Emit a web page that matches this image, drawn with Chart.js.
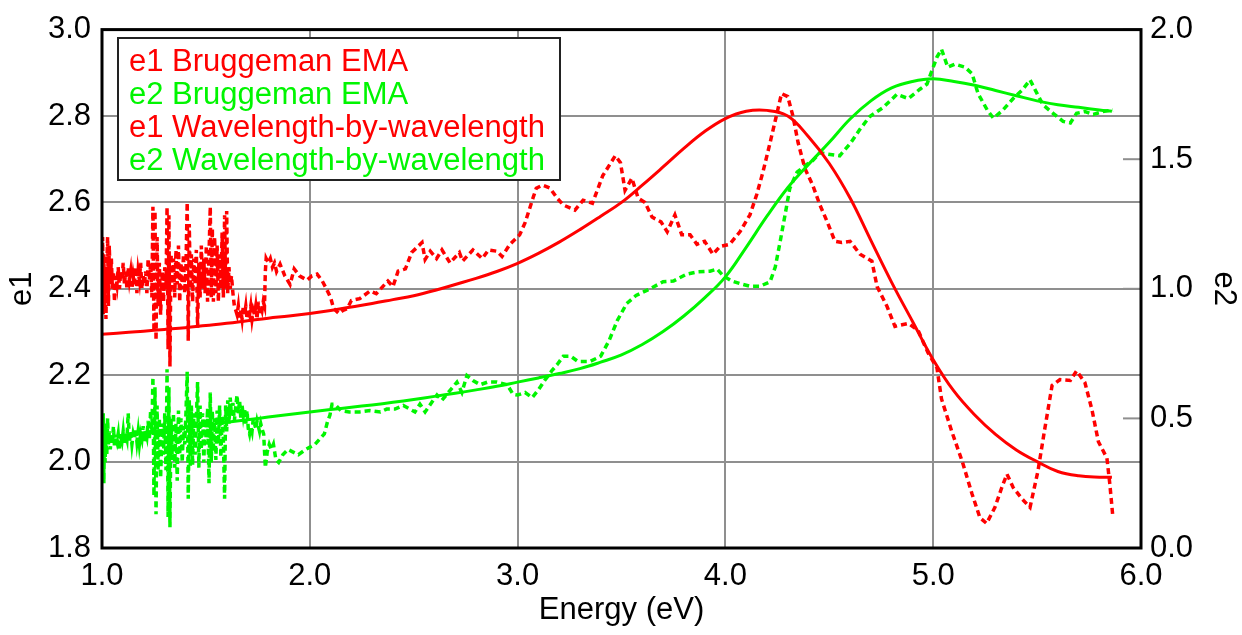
<!DOCTYPE html>
<html>
<head>
<meta charset="utf-8">
<script src="https://cdn.jsdelivr.net/npm/chart.js@4/dist/chart.umd.min.js"></script>
<style>
  html, body { margin: 0; padding: 0; background: #fff; }
  #wrap { width: 1242px; height: 635px; position: relative; }
</style>
</head>
<body>
<div id="wrap"><canvas id="chart"></canvas></div>
<script>
// Bruggeman EMA model curves, sampled every 0.1 eV
const bruggemanEnergy = [1.0, 1.1, 1.2, 1.3, 1.4, 1.5, 1.6, 1.7, 1.8, 1.9, 2.0, 2.1, 2.2, 2.3, 2.4, 2.5, 2.6, 2.7, 2.8, 2.9,
    3.0, 3.1, 3.2, 3.3, 3.4, 3.5, 3.6, 3.7, 3.8, 3.9, 4.0, 4.1, 4.2, 4.3, 4.4, 4.5, 4.6, 4.7, 4.8, 4.9,
    5.0, 5.1, 5.2, 5.3, 5.4, 5.5, 5.6, 5.7, 5.8, 5.86];
const e1Bruggeman = [2.295, 2.298, 2.302, 2.306, 2.310, 2.315, 2.320, 2.326, 2.332, 2.337, 2.343, 2.350, 2.358, 2.366, 2.375, 2.384, 2.396, 2.410, 2.424, 2.440,
    2.459, 2.482, 2.508, 2.537, 2.568, 2.600, 2.640, 2.682, 2.725, 2.764, 2.794, 2.811, 2.813, 2.800, 2.752, 2.690, 2.610, 2.512, 2.415, 2.325,
    2.236, 2.163, 2.108, 2.063, 2.027, 2.000, 1.977, 1.967, 1.964, 1.964];
const e2Bruggeman = [0.425, 0.435, 0.445, 0.455, 0.465, 0.475, 0.485, 0.495, 0.505, 0.515, 0.525, 0.534, 0.543, 0.552, 0.562, 0.573, 0.585, 0.597, 0.610, 0.624,
    0.640, 0.656, 0.673, 0.692, 0.717, 0.745, 0.785, 0.835, 0.895, 0.965, 1.046, 1.160, 1.280, 1.390, 1.480, 1.565, 1.655, 1.725, 1.775, 1.800,
    1.810, 1.800, 1.785, 1.765, 1.745, 1.725, 1.710, 1.700, 1.690, 1.685];

// Wavelength-by-wavelength fit results, [energy, value]
const wbwE1 = [
    [1.000, 2.40], [1.003, 2.52], [1.006, 2.34], [1.009, 2.48], [1.012, 2.36], [1.015, 2.44], [1.019, 2.33], [1.023, 2.45],
    [1.027, 2.52], [1.031, 2.36], [1.035, 2.50], [1.040, 2.41], [1.045, 2.47], [1.050, 2.40], [1.055, 2.44], [1.060, 2.37],
    [1.066, 2.43], [1.072, 2.41], [1.078, 2.45], [1.084, 2.40], [1.090, 2.44], [1.096, 2.42], [1.102, 2.46], [1.108, 2.41],
    [1.114, 2.44], [1.120, 2.40], [1.126, 2.45], [1.132, 2.42], [1.138, 2.44], [1.144, 2.40], [1.150, 2.43], [1.156, 2.41],
    [1.162, 2.45], [1.168, 2.39], [1.174, 2.44], [1.180, 2.42], [1.186, 2.46], [1.192, 2.40], [1.198, 2.43], [1.204, 2.41],
    [1.210, 2.44], [1.216, 2.39], [1.222, 2.47], [1.228, 2.42], [1.234, 2.46], [1.240, 2.38], [1.245, 2.59], [1.250, 2.30],
    [1.255, 2.58], [1.260, 2.28], [1.265, 2.52], [1.270, 2.36], [1.276, 2.46], [1.282, 2.34], [1.290, 2.44], [1.296, 2.37],
    [1.302, 2.45], [1.308, 2.40], [1.313, 2.59], [1.318, 2.26], [1.322, 2.57], [1.327, 2.22], [1.332, 2.48], [1.338, 2.40],
    [1.344, 2.47], [1.350, 2.38], [1.356, 2.49], [1.362, 2.41], [1.368, 2.50], [1.374, 2.37], [1.380, 2.46], [1.386, 2.40],
    [1.392, 2.48], [1.398, 2.39], [1.404, 2.45], [1.410, 2.60], [1.415, 2.28], [1.420, 2.55], [1.425, 2.40], [1.430, 2.48],
    [1.436, 2.37], [1.442, 2.47], [1.448, 2.41], [1.454, 2.49], [1.460, 2.31], [1.466, 2.46], [1.472, 2.38], [1.478, 2.50],
    [1.484, 2.40], [1.490, 2.47], [1.496, 2.39], [1.502, 2.50], [1.508, 2.37], [1.515, 2.48], [1.521, 2.59], [1.526, 2.38],
    [1.531, 2.54], [1.536, 2.37], [1.542, 2.52], [1.548, 2.39], [1.554, 2.50], [1.560, 2.37], [1.566, 2.48], [1.572, 2.40],
    [1.578, 2.53], [1.584, 2.38], [1.590, 2.57], [1.595, 2.40], [1.600, 2.58], [1.605, 2.39], [1.611, 2.45], [1.617, 2.40],
    [1.623, 2.43], [1.630, 2.39], [1.637, 2.36], [1.644, 2.35], [1.650, 2.34], [1.656, 2.36], [1.662, 2.33], [1.668, 2.35],
    [1.674, 2.33], [1.680, 2.36], [1.686, 2.34], [1.692, 2.36], [1.698, 2.33], [1.704, 2.35], [1.710, 2.34], [1.716, 2.36],
    [1.722, 2.33], [1.728, 2.35], [1.734, 2.34], [1.740, 2.36], [1.746, 2.33], [1.752, 2.37], [1.758, 2.34], [1.764, 2.36],
    [1.770, 2.35], [1.776, 2.37], [1.782, 2.36], [1.786, 2.44], [1.790, 2.47], [1.800, 2.46], [1.810, 2.47], [1.820, 2.45],
    [1.830, 2.46], [1.840, 2.44], [1.857, 2.457], [1.880, 2.43], [1.905, 2.41], [1.925, 2.446], [1.950, 2.43], [1.987, 2.42],
    [2.010, 2.43], [2.035, 2.434], [2.060, 2.418], [2.080, 2.40], [2.100, 2.38], [2.115, 2.354], [2.140, 2.343], [2.160, 2.35],
    [2.180, 2.354], [2.200, 2.373], [2.240, 2.377], [2.290, 2.395], [2.320, 2.389], [2.376, 2.418], [2.400, 2.405], [2.425, 2.441],
    [2.460, 2.446], [2.490, 2.484], [2.540, 2.507], [2.555, 2.468], [2.580, 2.487], [2.610, 2.47], [2.636, 2.49], [2.675, 2.46],
    [2.720, 2.484], [2.735, 2.464], [2.785, 2.49], [2.830, 2.47], [2.860, 2.49], [2.900, 2.487], [2.925, 2.475], [2.963, 2.503],
    [3.010, 2.525], [3.036, 2.553], [3.074, 2.61], [3.090, 2.633], [3.120, 2.64], [3.156, 2.633], [3.190, 2.61], [3.220, 2.594],
    [3.276, 2.582], [3.315, 2.605], [3.360, 2.598], [3.410, 2.662], [3.470, 2.708], [3.495, 2.692], [3.517, 2.628], [3.550, 2.656],
    [3.580, 2.61], [3.613, 2.60], [3.647, 2.566], [3.690, 2.555], [3.720, 2.532], [3.757, 2.571], [3.790, 2.525], [3.830, 2.525],
    [3.863, 2.503], [3.900, 2.51], [3.940, 2.48], [3.974, 2.498], [4.020, 2.503], [4.070, 2.532], [4.118, 2.571], [4.150, 2.617],
    [4.180, 2.669], [4.215, 2.738], [4.248, 2.806], [4.270, 2.852], [4.300, 2.845], [4.325, 2.80], [4.350, 2.738], [4.383, 2.678],
    [4.420, 2.64], [4.455, 2.594], [4.490, 2.555], [4.527, 2.51], [4.560, 2.507], [4.600, 2.51], [4.648, 2.48], [4.705, 2.464],
    [4.730, 2.405], [4.778, 2.359], [4.816, 2.313], [4.880, 2.32], [4.927, 2.304], [4.975, 2.252], [5.018, 2.217], [5.040, 2.145],
    [5.090, 2.069], [5.140, 2.0], [5.187, 1.925], [5.225, 1.87], [5.257, 1.857], [5.297, 1.894], [5.330, 1.94], [5.355, 1.971],
    [5.385, 1.94], [5.427, 1.914], [5.466, 1.894], [5.504, 1.978], [5.537, 2.076], [5.572, 2.176], [5.610, 2.19], [5.660, 2.188],
    [5.690, 2.21], [5.730, 2.183], [5.764, 2.12], [5.795, 2.046], [5.836, 2.008], [5.850, 1.948], [5.865, 1.87]
];

const wbwE2 = [
    [1.000, 0.45], [1.003, 0.30], [1.006, 0.52], [1.009, 0.25], [1.012, 0.48], [1.015, 0.33], [1.019, 0.47], [1.023, 0.36],
    [1.027, 0.50], [1.031, 0.40], [1.035, 0.45], [1.040, 0.38], [1.045, 0.44], [1.050, 0.40], [1.055, 0.47], [1.060, 0.39],
    [1.066, 0.43], [1.072, 0.41], [1.078, 0.44], [1.084, 0.38], [1.090, 0.43], [1.096, 0.41], [1.102, 0.45], [1.108, 0.40],
    [1.114, 0.44], [1.120, 0.42], [1.126, 0.52], [1.132, 0.41], [1.138, 0.45], [1.144, 0.40], [1.150, 0.44], [1.156, 0.42],
    [1.162, 0.46], [1.168, 0.41], [1.174, 0.45], [1.180, 0.40], [1.186, 0.44], [1.192, 0.42], [1.198, 0.47], [1.204, 0.41],
    [1.210, 0.45], [1.216, 0.43], [1.222, 0.49], [1.228, 0.42], [1.234, 0.53], [1.240, 0.44], [1.245, 0.66], [1.250, 0.20],
    [1.255, 0.62], [1.260, 0.13], [1.265, 0.55], [1.270, 0.30], [1.276, 0.50], [1.282, 0.27], [1.290, 0.48], [1.296, 0.36],
    [1.302, 0.52], [1.308, 0.30], [1.313, 0.69], [1.318, 0.12], [1.322, 0.62], [1.327, 0.08], [1.332, 0.50], [1.338, 0.34],
    [1.344, 0.52], [1.350, 0.31], [1.356, 0.48], [1.362, 0.26], [1.368, 0.53], [1.374, 0.36], [1.380, 0.50], [1.386, 0.33],
    [1.392, 0.47], [1.398, 0.40], [1.404, 0.52], [1.410, 0.68], [1.415, 0.19], [1.420, 0.57], [1.425, 0.31], [1.430, 0.55],
    [1.436, 0.32], [1.442, 0.52], [1.448, 0.36], [1.454, 0.50], [1.460, 0.64], [1.466, 0.31], [1.472, 0.55], [1.478, 0.38],
    [1.484, 0.52], [1.490, 0.33], [1.496, 0.50], [1.502, 0.40], [1.508, 0.54], [1.515, 0.25], [1.521, 0.60], [1.526, 0.33],
    [1.531, 0.53], [1.536, 0.37], [1.542, 0.50], [1.548, 0.34], [1.554, 0.53], [1.560, 0.40], [1.566, 0.55], [1.572, 0.35],
    [1.578, 0.51], [1.584, 0.42], [1.590, 0.19], [1.595, 0.55], [1.600, 0.45], [1.605, 0.57], [1.611, 0.48], [1.617, 0.58],
    [1.623, 0.51], [1.630, 0.56], [1.637, 0.49], [1.644, 0.55], [1.650, 0.59], [1.656, 0.52], [1.662, 0.57], [1.668, 0.50],
    [1.674, 0.55], [1.680, 0.51], [1.686, 0.54], [1.692, 0.48], [1.698, 0.53], [1.704, 0.46], [1.710, 0.44], [1.716, 0.47],
    [1.722, 0.45], [1.728, 0.50], [1.734, 0.48], [1.740, 0.46], [1.746, 0.49], [1.752, 0.47], [1.758, 0.45], [1.764, 0.48],
    [1.770, 0.46], [1.778, 0.44], [1.786, 0.31], [1.795, 0.37], [1.805, 0.40], [1.815, 0.38], [1.825, 0.40], [1.837, 0.34],
    [1.850, 0.33], [1.870, 0.36], [1.895, 0.38], [1.920, 0.37], [1.945, 0.36], [1.980, 0.38], [2.025, 0.40], [2.070, 0.44],
    [2.085, 0.487], [2.097, 0.513], [2.107, 0.555], [2.120, 0.555], [2.150, 0.53], [2.190, 0.525], [2.240, 0.525], [2.290, 0.53],
    [2.340, 0.525], [2.370, 0.536], [2.410, 0.536], [2.450, 0.55], [2.506, 0.525], [2.530, 0.555], [2.555, 0.525], [2.588, 0.563],
    [2.612, 0.59], [2.636, 0.57], [2.708, 0.64], [2.732, 0.60], [2.756, 0.665], [2.785, 0.646], [2.820, 0.63], [2.855, 0.64],
    [2.900, 0.64], [2.950, 0.63], [2.978, 0.593], [3.000, 0.59], [3.036, 0.60], [3.070, 0.58], [3.100, 0.61], [3.130, 0.646],
    [3.165, 0.684], [3.190, 0.707], [3.220, 0.74], [3.255, 0.74], [3.290, 0.72], [3.350, 0.72], [3.400, 0.74], [3.440, 0.80],
    [3.480, 0.878], [3.525, 0.943], [3.570, 0.974], [3.637, 1.0], [3.700, 1.027], [3.750, 1.03], [3.815, 1.057], [3.863, 1.065],
    [3.926, 1.068], [3.960, 1.076], [3.990, 1.05], [4.030, 1.03], [4.070, 1.02], [4.118, 1.01], [4.167, 1.01], [4.215, 1.027],
    [4.240, 1.084], [4.263, 1.18], [4.287, 1.285], [4.310, 1.388], [4.345, 1.45], [4.383, 1.475], [4.420, 1.494], [4.455, 1.525],
    [4.490, 1.52], [4.550, 1.513], [4.600, 1.56], [4.648, 1.616], [4.695, 1.665], [4.760, 1.70], [4.825, 1.75], [4.880, 1.734],
    [4.936, 1.77], [4.970, 1.79], [5.000, 1.855], [5.018, 1.894], [5.040, 1.924], [5.070, 1.855], [5.105, 1.867], [5.153, 1.855],
    [5.187, 1.83], [5.216, 1.753], [5.260, 1.69], [5.290, 1.658], [5.336, 1.69], [5.385, 1.734], [5.432, 1.77], [5.466, 1.806],
    [5.500, 1.753], [5.528, 1.71], [5.577, 1.677], [5.625, 1.646], [5.660, 1.64], [5.690, 1.677], [5.730, 1.684], [5.770, 1.673],
    [5.817, 1.684], [5.865, 1.69]
];

const seriesLabels = ['e1 Bruggeman EMA', 'e2 Bruggeman EMA', 'e1 Wavelength-by-wavelength', 'e2 Wavelength-by-wavelength'];

const RED = '#ff0000';
const GREEN = '#00f500';
const GRID = '#8f8f8f';
const FONT = '"Liberation Sans", Arial, sans-serif';
const FONT_SIZE = 31;

function toPoints(xs, ys) {
    return xs.map((x, i) => ({ x: x, y: ys[i] }));
}
function pairsToPoints(pairs) {
    return pairs.map(p => ({ x: p[0], y: p[1] }));
}

// Plot frame, inward ticks on the e2 axis and the boxed legend
const framePlugin = {
    id: 'frame',
    afterDatasetsDraw(chart) {
        const ctx = chart.ctx;
        const a = chart.chartArea;
        const y2 = chart.scales.y2;
        ctx.save();

        ctx.strokeStyle = GRID;
        ctx.lineWidth = 2;
        y2.ticks.forEach(t => {
            const py = y2.getPixelForValue(t.value);
            ctx.beginPath();
            ctx.moveTo(a.right - 18, py);
            ctx.lineTo(a.right, py);
            ctx.stroke();
        });

        ctx.strokeStyle = '#000';
        ctx.lineWidth = 3;
        ctx.strokeRect(a.left, a.top, a.right - a.left, a.bottom - a.top);

        // legend
        const lx = 118, ly = 38, lw = 442, lh = 142;
        ctx.fillStyle = '#fff';
        ctx.fillRect(lx, ly, lw, lh);
        ctx.strokeStyle = '#222';
        ctx.lineWidth = 2;
        ctx.strokeRect(lx, ly, lw, lh);
        ctx.font = FONT_SIZE + 'px ' + FONT;
        ctx.textBaseline = 'middle';
        ctx.textAlign = 'left';
        chart.data.datasets.forEach((ds, i) => {
            ctx.fillStyle = ds.borderColor;
            ctx.fillText(ds.label, 129, 62 + i * 33);
        });
        ctx.restore();
    }
};

new Chart(document.getElementById('chart'), {
    type: 'line',
    data: {
        datasets: [
            {
                label: seriesLabels[0],
                data: toPoints(bruggemanEnergy, e1Bruggeman),
                yAxisID: 'y',
                borderColor: RED,
                borderWidth: 3,
                tension: 0.4,
                pointRadius: 0
            },
            {
                label: seriesLabels[1],
                data: toPoints(bruggemanEnergy, e2Bruggeman),
                yAxisID: 'y2',
                borderColor: GREEN,
                borderWidth: 3,
                tension: 0.4,
                pointRadius: 0
            },
            {
                label: seriesLabels[2],
                data: pairsToPoints(wbwE1),
                yAxisID: 'y',
                borderColor: RED,
                borderWidth: 3.5,
                borderDash: [6, 4],
                tension: 0,
                pointRadius: 0
            },
            {
                label: seriesLabels[3],
                data: pairsToPoints(wbwE2),
                yAxisID: 'y2',
                borderColor: GREEN,
                borderWidth: 3.5,
                borderDash: [6, 4],
                tension: 0,
                pointRadius: 0
            }
        ]
    },
    options: {
        responsive: true,
        maintainAspectRatio: false,
        animation: false,
        layout: { padding: { top: 22, left: 0, right: 0, bottom: 0 } },
        plugins: {
            legend: { display: false },
            tooltip: { enabled: false }
        },
        scales: {
            x: {
                type: 'linear',
                min: 1,
                max: 6,
                afterFit: s => { s.height = 87; },
                ticks: {
                    stepSize: 1,
                    padding: 10,
                    maxRotation: 0,
                    color: '#000',
                    font: { family: FONT, size: FONT_SIZE },
                    callback: v => v.toFixed(1)
                },
                grid: { color: GRID, lineWidth: 2, drawTicks: false },
                border: { display: false },
                title: {
                    display: true,
                    text: 'Energy (eV)',
                    color: '#000',
                    font: { family: FONT, size: FONT_SIZE },
                    padding: { top: 0, bottom: 6 }
                }
            },
            y: {
                position: 'left',
                min: 1.8,
                max: 3.0,
                afterFit: s => { s.width = 102; },
                ticks: {
                    stepSize: 0.2,
                    padding: 11,
                    color: '#000',
                    font: { family: FONT, size: FONT_SIZE },
                    callback: v => v.toFixed(1)
                },
                grid: { color: GRID, lineWidth: 2, drawTicks: false },
                border: { display: false },
                title: {
                    display: true,
                    text: 'e1',
                    color: '#000',
                    font: { family: FONT, size: FONT_SIZE },
                    padding: { top: 4, bottom: 0 }
                }
            },
            y2: {
                position: 'right',
                min: 0,
                max: 2,
                afterFit: s => { s.width = 101; },
                ticks: {
                    stepSize: 0.5,
                    padding: 9,
                    color: '#000',
                    font: { family: FONT, size: FONT_SIZE },
                    callback: v => v.toFixed(1)
                },
                grid: { drawOnChartArea: false, drawTicks: false },
                border: { display: false },
                title: {
                    display: true,
                    text: 'e2',
                    color: '#000',
                    font: { family: FONT, size: FONT_SIZE },
                    padding: { top: 0, bottom: 0 }
                }
            }
        }
    },
    plugins: [framePlugin]
});
</script>
</body>
</html>
